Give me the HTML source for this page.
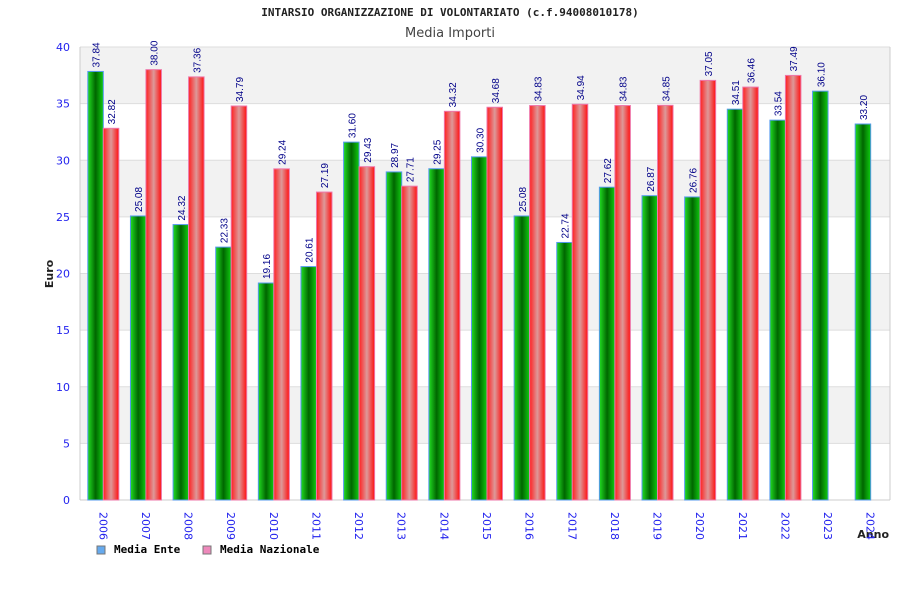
<!DOCTYPE html>
<html><head><meta charset="utf-8"><style>
body{margin:0;background:#fff}
svg{display:block;font-family:"DejaVu Sans","Liberation Sans",sans-serif}
</style></head><body>
<svg id="c" width="900" height="600" xmlns="http://www.w3.org/2000/svg">
<defs>
<linearGradient id="gg" x1="0" x2="1" y1="0" y2="0"><stop offset="0" stop-color="#22dd22"/><stop offset="0.5" stop-color="#006600"/><stop offset="1" stop-color="#11cc11"/></linearGradient>
<linearGradient id="gr" x1="0" x2="1" y1="0" y2="0"><stop offset="0" stop-color="#ff2020"/><stop offset="0.5" stop-color="#dd9999"/><stop offset="1" stop-color="#ff1010"/></linearGradient>
</defs>
<text x="450" y="16" text-anchor="middle" font-family="DejaVu Sans Mono, Liberation Mono, monospace" font-size="11" font-weight="bold" fill="#222">INTARSIO ORGANIZZAZIONE DI VOLONTARIATO (c.f.94008010178)</text>
<text x="450" y="37" text-anchor="middle" font-size="13" fill="#444">Media Importi</text>
<text transform="translate(53,274) rotate(-90)" text-anchor="middle" font-size="11" font-weight="bold" fill="#222">Euro</text>
<text x="889" y="538" text-anchor="end" font-size="11" font-weight="bold" fill="#222">Anno</text>
<g id="grid"></g><g id="bars"></g><g id="labels"></g>
<g>
<rect x="97" y="546" width="8" height="8" fill="#66aaee" stroke="#777"/>
<text x="114" y="553" font-family="DejaVu Sans Mono, Liberation Mono, monospace" font-size="11" font-weight="bold" fill="#000">Media Ente</text>
<rect x="203" y="546" width="8" height="8" fill="#ee88bb" stroke="#777"/>
<text x="220" y="553" font-family="DejaVu Sans Mono, Liberation Mono, monospace" font-size="11" font-weight="bold" fill="#000">Media Nazionale</text>
</g>
</svg>
<script>
const years=["2006","2007","2008","2009","2010","2011","2012","2013","2014","2015","2016","2017","2018","2019","2020","2021","2022","2023","2024"];
const ente=[37.84,25.08,24.32,22.33,19.16,20.61,31.60,28.97,29.25,30.30,25.08,22.74,27.62,26.87,26.76,34.51,33.54,36.10,33.20];
const naz=[32.82,38.00,37.36,34.79,29.24,27.19,29.43,27.71,34.32,34.68,34.83,34.94,34.83,34.85,37.05,36.46,37.49,null,null];
const yTicks=[0,5,10,15,20,25,30,35,40];
const NS="http://www.w3.org/2000/svg";
const L=80,R=890,T=47,B=500,yMax=40;
const y=v=>B-(v/yMax)*(B-T);
const step=(R-L)/years.length;
const xc=i=>L+2+step*(i+0.5);
function mk(tag,attrs,parent){const e=document.createElementNS(NS,tag);for(const k in attrs)e.setAttribute(k,attrs[k]);document.getElementById(parent).appendChild(e);return e;}
for(let i=0;i<yTicks.length-1;i++){
 const b=mk('rect',{x:L,y:y(yTicks[i+1]),width:R-L,height:y(yTicks[i])-y(yTicks[i+1]),fill:i%2?'#f2f2f2':'#ffffff'},'grid');
 
 
}
yTicks.forEach(t=>{
 const l=mk('line',{x1:L,x2:R,y1:y(t),y2:y(t),stroke:'#dddddd'},'grid');
 
 
 const tx=mk('text',{x:L-10,y:y(t)+4,'text-anchor':'end','font-size':11,fill:'#2222ee'},'grid');
 tx.textContent=t;
 
 
});
mk('line',{x1:L,x2:L,y1:T,y2:B,stroke:'#cccccc'},'grid');
mk('line',{x1:R,x2:R,y1:T,y2:B,stroke:'#cccccc'},'grid');
mk('line',{x1:L,x2:R,y1:B,y2:B,stroke:'#cccccc'},'grid');
const bw=15.5;
function label(x,v,top){
 const t=mk('text',{transform:`translate(${x+4},${top-4}) rotate(-90)`,'font-size':10,'font-family':'Liberation Sans, sans-serif',fill:'#000088'},'labels');
 t.textContent=v.toFixed(2);
 
 
}
years.forEach((yr,i)=>{
 const c=xc(i);
 const x1=c-bw;
 const r1=mk('rect',{x:x1,y:y(ente[i]),width:bw,height:B-y(ente[i]),fill:'url(#gg)',stroke:'#5599ee','stroke-width':1},'bars');
 
 
 label(x1+bw/2,ente[i],y(ente[i]));
 if(naz[i]!=null){
  const r2=mk('rect',{x:c,y:y(naz[i]),width:bw,height:B-y(naz[i]),fill:'url(#gr)',stroke:'#ee77aa','stroke-width':1},'bars');
  
  
  label(c+bw/2,naz[i],y(naz[i]));
 }
 const t=mk('text',{transform:`translate(${c-4},${B+12}) rotate(90)`,'font-size':11,fill:'#2222ee'},'labels');
 t.textContent=yr;
 
 
});
</script>
</body></html>
